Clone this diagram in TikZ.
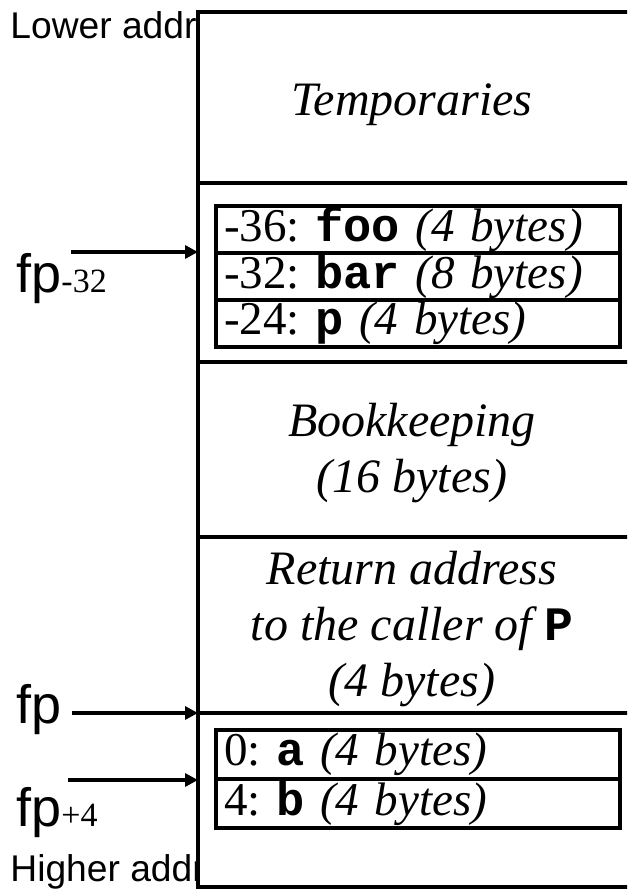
\documentclass[tikz,border=0pt]{standalone}
\usepackage{fontspec}
\setmainfont{Liberation Serif}
\setsansfont{Liberation Sans}
\setmonofont{Liberation Mono}
\usetikzlibrary{positioning,arrows.meta}

\begin{document}
\begin{tikzpicture}[x=0.5pt,y=-0.5pt,line width=2.4pt,>={Triangle[length=6.5pt,width=6.5pt]},
    blocktext/.style={font=\fontsize{24}{28}\selectfont\itshape,align=center,inner sep=0pt},
    slot/.style={draw,line width=2pt,anchor=north west,inner xsep=4pt,inner ysep=0pt,
        text width=194pt,minimum height=#1,align=left,
        font=\fontsize{23.5}{27}\selectfont\frenchspacing},
    slot/.default=23.6pt,
    addr/.style={font=\sffamily\fontsize{18.6}{22}\selectfont,inner sep=0pt,anchor=base west},
    fplabel/.style={font=\sffamily\fontsize{27}{30}\selectfont,inner sep=0pt,anchor=base west}]

    \clip (0,0) rectangle (627,893);
    \fill[white] (0,0) rectangle (627,893);

    % address labels, partly hidden by the frame
    \node[addr] (lower) at (8,39) {Lower addr};
    \node[addr] (higher) at (8,881) {Higher addr};

    % frame of the activation record
    \draw[fill=white] (198,12) rectangle (640,887);
    \foreach \y/\name in {183/sepa,362/sepb,537/sepc,713/sepd}{
        \draw (198,\y) coordinate (\name) -- (640,\y);
    }

    \node[blocktext,anchor=base] (temp) at (412,116) {Temporaries};
    \node[blocktext] (book) at (412,453) {Bookkeeping\\(16 bytes)};
    \node[blocktext] (ret) at (412,629) {Return address\\to the caller of \texttt{\bfseries\upshape P}\\(4 bytes)};

    % locals
    \node[slot] (foo) at (214,204) {-36: \texttt{\bfseries foo} \textit{(4 bytes)}};
    \node[slot] (bar) at (214,251) {-32: \texttt{\bfseries bar} \textit{(8 bytes)}};
    \node[slot] (p) at (214,298) {-24: \texttt{\bfseries p} \textit{(4 bytes)}};

    % arguments
    \node[slot=24.5pt] (a) at (214,728) {0: \texttt{\bfseries a} \textit{(4 bytes)}};
    \node[slot=24.5pt] (b) at (214,777) {4: \texttt{\bfseries b} \textit{(4 bytes)}};

    % frame pointer labels
    \node[fplabel] (fpminus) at (14,292) {fp{\rmfamily\fontsize{17}{19}\selectfont-32}};
    \node[fplabel] (fp) at (14,723) {fp};
    \node[fplabel] (fpplus) at (14,826) {fp{\rmfamily\fontsize{17}{19}\selectfont+4}};

    \coordinate (fpminusstart) at (71,252);
    \coordinate (fpstart) at (72,713);
    \coordinate (fpplusstart) at (68,780);

    \draw[->] (fpminusstart) -- (sepa |- fpminusstart);
    \draw[->] (fpstart) -- (sepd);
    \draw[->] (fpplusstart) -- (sepd |- fpplusstart);

\end{tikzpicture}
\end{document}
